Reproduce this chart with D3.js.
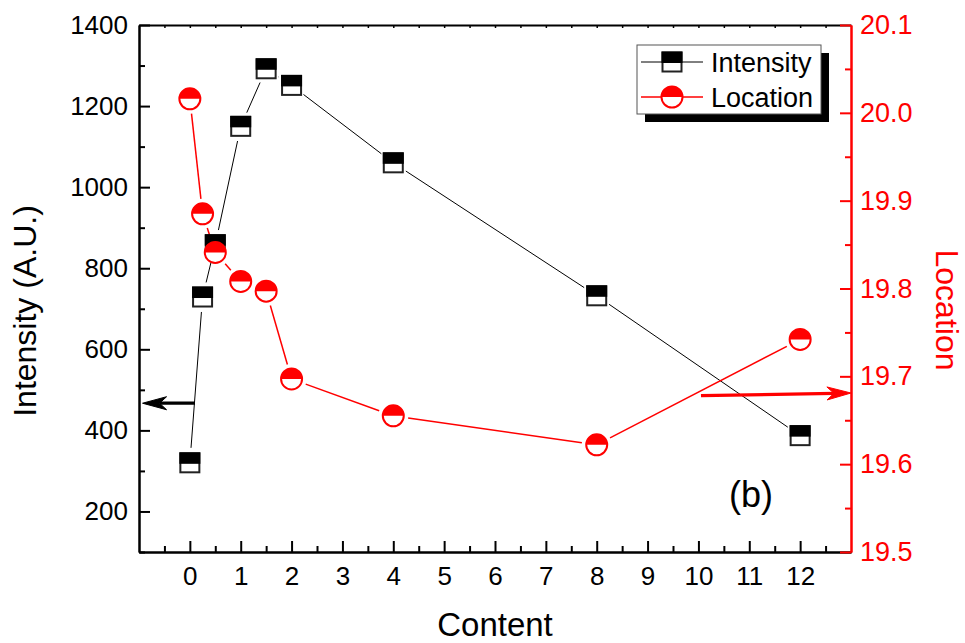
<!DOCTYPE html>
<html><head><meta charset="utf-8">
<script src="https://cdn.jsdelivr.net/npm/d3@7"></script>
<style>
html,body{margin:0;padding:0;background:#fff;}
svg{display:block;font-family:"Liberation Sans",Arial,sans-serif;}
</style></head>
<body>
<svg id="chart" width="965" height="643"></svg>
<script>
// ---- data ----
const contentVals = [0, 0.25, 0.5, 1, 1.5, 2, 4, 8, 12];
const intensityVals = [320, 729, 858, 1150, 1292, 1251, 1060, 732, 387];
const locationVals = [20.016, 19.885, 19.841, 19.808, 19.797, 19.697, 19.655, 19.622, 19.742];
const xTicks = [0,1,2,3,4,5,6,7,8,9,10,11,12];
const xMinorTicks = [-0.5,0.5,1.5,2.5,3.5,4.5,5.5,6.5,7.5,8.5,9.5,10.5,11.5,12.5];
const leftTicks = [200,400,600,800,1000,1200,1400];
const leftMinorTicks = [100,300,500,700,900,1100,1300];
const rightTicks = [19.5,19.6,19.7,19.8,19.9,20.0,20.1];
const rightMinorTicks = [19.55,19.65,19.75,19.85,19.95,20.05];
const seriesNames = ["Intensity","Location"];
// annotation arrows in data units: [x0, y0, x1, y1]
const leftArrow = [0.1, 467, -0.93, 467];          // left axis units
const rightArrow = [10.05, 19.678, 13.0, 19.681];  // right axis units

// ---- layout ----
const L = 139, R = 851, T = 25, B = 552;
const svg = d3.select("#chart");
const x = d3.scaleLinear().domain([-1, 13]).range([L, R]);
const yL = d3.scaleLinear().domain([100, 1400]).range([B, T]);
const yR = d3.scaleLinear().domain([19.5, 20.1]).range([B, T]);
const RED = "#ff0000";

function styleAxis(g, color, fs) {
  g.select(".domain").attr("stroke", color).attr("stroke-width", 2);
  g.selectAll(".tick line").attr("stroke", color).attr("stroke-width", 2);
  g.selectAll(".tick text").attr("fill", color).attr("font-size", fs)
    .attr("font-family", '"Liberation Sans",Arial,sans-serif');
}

// top axis (small ticks, no labels)
const gTop = svg.append("g").attr("transform", `translate(0,${T})`)
  .call(d3.axisTop(x).tickValues(xTicks.concat(xMinorTicks)).tickSizeInner(-3).tickSizeOuter(0).tickFormat(""));
styleAxis(gTop, "#000", 0);
gTop.selectAll(".tick line").attr("stroke-width", 1.5);

// bottom axis
const gBotMinor = svg.append("g").attr("transform", `translate(0,${B})`)
  .call(d3.axisBottom(x).tickValues(xMinorTicks).tickSizeInner(-6).tickSizeOuter(0).tickFormat(""));
styleAxis(gBotMinor, "#000", 0);
const gBot = svg.append("g").attr("transform", `translate(0,${B})`)
  .call(d3.axisBottom(x).tickValues(xTicks).tickSizeInner(-11).tickSizeOuter(0).tickPadding(15).tickFormat(d3.format("d")));
styleAxis(gBot, "#000", 26);

// left axis
const gLeftMinor = svg.append("g").attr("transform", `translate(${L},0)`)
  .call(d3.axisLeft(yL).tickValues(leftMinorTicks).tickSizeInner(-6).tickSizeOuter(0).tickFormat(""));
styleAxis(gLeftMinor, "#000", 0);
const gLeft = svg.append("g").attr("transform", `translate(${L},0)`)
  .call(d3.axisLeft(yL).tickValues(leftTicks).tickSizeInner(-11).tickSizeOuter(0).tickPadding(11).tickFormat(d3.format("d")));
styleAxis(gLeft, "#000", 26);

// right axis (red)
const gRightMinor = svg.append("g").attr("transform", `translate(${R},0)`)
  .call(d3.axisRight(yR).tickValues(rightMinorTicks).tickSizeInner(-6).tickSizeOuter(0).tickFormat(""));
styleAxis(gRightMinor, RED, 0);
const gRight = svg.append("g").attr("transform", `translate(${R},0)`)
  .call(d3.axisRight(yR).tickValues(rightTicks).tickSizeInner(-11).tickSizeOuter(0).tickPadding(9).tickFormat(d3.format(".1f")));
styleAxis(gRight, RED, 27);

// axis titles
svg.append("text").attr("x", (L + R) / 2).attr("y", 636).attr("text-anchor", "middle")
  .attr("font-size", 33).attr("fill", "#000").text("Content");
svg.append("text").attr("transform", `translate(36,311) rotate(-90)`).attr("text-anchor", "middle")
  .attr("font-size", 32).attr("fill", "#000").text("Intensity (A.U.)");
svg.append("text").attr("transform", `translate(936,310) rotate(90)`).attr("text-anchor", "middle")
  .attr("font-size", 32).attr("fill", RED).text("Location");

// lines with gaps around markers
function gappedSegments(pts, gap) {
  const segs = [];
  for (let i = 0; i < pts.length - 1; i++) {
    const [x0, y0] = pts[i], [x1, y1] = pts[i + 1];
    const dx = x1 - x0, dy = y1 - y0, len = Math.hypot(dx, dy);
    if (len <= 2 * gap) continue;
    const ux = dx / len, uy = dy / len;
    segs.push([x0 + ux * gap, y0 + uy * gap, x1 - ux * gap, y1 - uy * gap]);
  }
  return segs;
}
const ptsI = contentVals.map((c, i) => [x(c), yL(intensityVals[i])]);
const ptsL = contentVals.map((c, i) => [x(c), yR(locationVals[i])]);

svg.append("g").selectAll("line").data(gappedSegments(ptsI, 15)).join("line")
  .attr("x1", d => d[0]).attr("y1", d => d[1]).attr("x2", d => d[2]).attr("y2", d => d[3])
  .attr("stroke", "#000").attr("stroke-width", 1);
svg.append("g").selectAll("line").data(gappedSegments(ptsL, 15)).join("line")
  .attr("x1", d => d[0]).attr("y1", d => d[1]).attr("x2", d => d[2]).attr("y2", d => d[3])
  .attr("stroke", RED).attr("stroke-width", 1.5);

// markers
const SQ = 19, CR = 10.5;
function drawSquare(g, cx, cy) {
  g.append("rect").attr("x", cx - SQ / 2).attr("y", cy - SQ / 2).attr("width", SQ).attr("height", SQ)
    .attr("fill", "#fff").attr("stroke", "#222").attr("stroke-width", 2);
  g.append("rect").attr("x", cx - SQ / 2).attr("y", cy - SQ / 2).attr("width", SQ).attr("height", SQ / 2)
    .attr("fill", "#000").attr("stroke", "#000").attr("stroke-width", 2);
}
function drawCircle(g, cx, cy) {
  g.append("circle").attr("cx", cx).attr("cy", cy).attr("r", CR).attr("fill", "#fff");
  g.append("path").attr("d", `M${cx - CR},${cy} A${CR},${CR} 0 0 1 ${cx + CR},${cy} Z`).attr("fill", RED);
  g.append("circle").attr("cx", cx).attr("cy", cy).attr("r", CR).attr("fill", "none")
    .attr("stroke", RED).attr("stroke-width", 2);
}
const gI = svg.append("g");
ptsI.forEach(p => drawSquare(gI, p[0], p[1]));
const gLm = svg.append("g");
ptsL.forEach(p => drawCircle(gLm, p[0], p[1]));

// arrows
function arrow(x0, y0, x1, y1, color) {
  const dx = x1 - x0, dy = y1 - y0, len = Math.hypot(dx, dy);
  const ux = dx / len, uy = dy / len, nx = -uy, ny = ux;
  const hl = 24, hw = 6.5, notch = 17;
  svg.append("line").attr("x1", x0).attr("y1", y0)
    .attr("x2", x1 - ux * notch).attr("y2", y1 - uy * notch)
    .attr("stroke", color).attr("stroke-width", 3.2);
  const bx = x1 - ux * hl, by = y1 - uy * hl;
  const nxp = x1 - ux * notch, nyp = y1 - uy * notch;
  svg.append("path").attr("d",
    `M${x1},${y1} L${bx + nx * hw},${by + ny * hw} L${nxp},${nyp} L${bx - nx * hw},${by - ny * hw} Z`)
    .attr("fill", color).attr("stroke", color).attr("stroke-width", 1);
}
arrow(x(leftArrow[0]), yL(leftArrow[1]), x(leftArrow[2]), yL(leftArrow[3]), "#000");
arrow(x(rightArrow[0]), yR(rightArrow[1]), x(rightArrow[2]), yR(rightArrow[3]), RED);

// (b) label
svg.append("text").attr("x", 751).attr("y", 507).attr("text-anchor", "middle")
  .attr("font-size", 36).attr("fill", "#000").text("(b)");

// legend
const lg = svg.append("g");
const lx = 637, ly = 45, lw = 184, lh = 69;
lg.append("rect").attr("x", lx + 8).attr("y", ly + 8).attr("width", lw).attr("height", lh).attr("fill", "#000");
lg.append("rect").attr("x", lx).attr("y", ly).attr("width", lw).attr("height", lh)
  .attr("fill", "#fff").attr("stroke", "#555").attr("stroke-width", 1);
const rows = [62, 97];
seriesNames.forEach((name, i) => {
  const cy = rows[i];
  const col = i === 0 ? "#000" : RED;
  lg.append("line").attr("x1", 641).attr("x2", 703).attr("y1", cy).attr("y2", cy)
    .attr("stroke", col).attr("stroke-width", i === 0 ? 1 : 1.5);
  if (i === 0) drawSquare(lg, 672, cy); else drawCircle(lg, 672, cy);
  lg.append("text").attr("x", 711).attr("y", cy + 10).attr("font-size", 27).attr("fill", "#000").text(name);
});
</script>
</body></html>
